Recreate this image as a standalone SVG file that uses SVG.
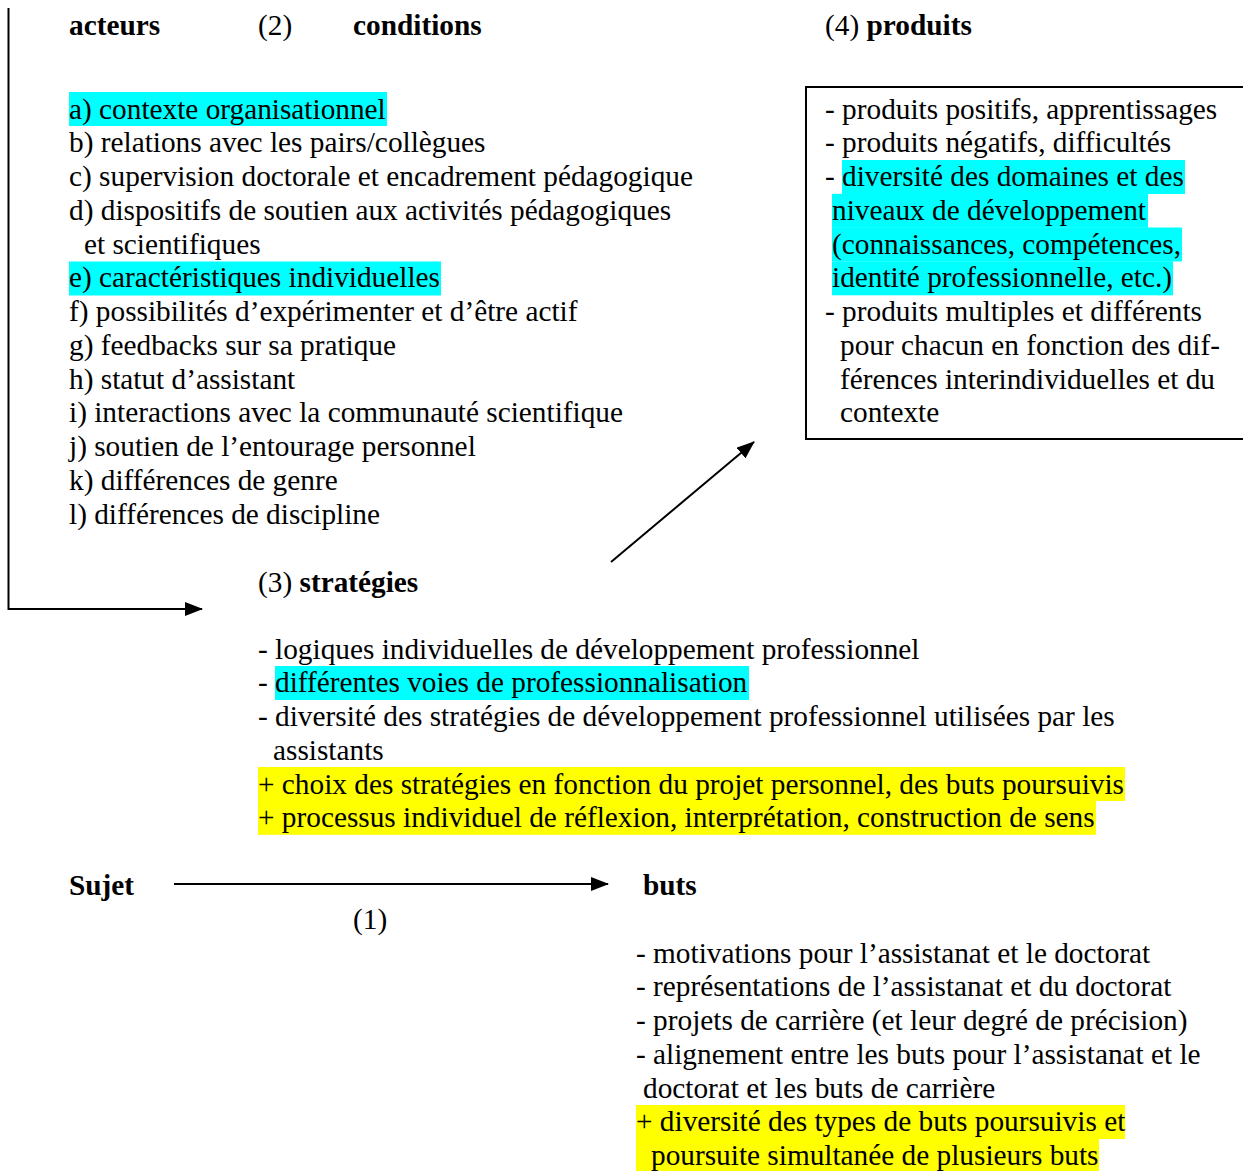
<svg xmlns="http://www.w3.org/2000/svg" width="1243" height="1171" viewBox="0 0 1243 1171">
  <style>
    .t { font-family: "Liberation Serif", "Times New Roman", serif; font-size: 29.3px; fill: #000; }
    .b { font-weight: bold; }
    .hc { fill: #00ffff; }
    .hy { fill: #ffff00; }
    .ln { stroke: #000; stroke-width: 2; fill: none; }
  </style>
  <defs>
    <marker id="arr" markerWidth="18" markerHeight="14" refX="17" refY="7" orient="auto" markerUnits="userSpaceOnUse">
      <path d="M0,0 L18,7 L0,14 Z" fill="#000"/>
    </marker>
  </defs>
  <rect width="1243" height="1171" fill="#fff"/>

  <!-- headers -->
  <g id="headers">
    <text class="t b" x="69" y="35">acteurs</text>
    <text class="t" x="258" y="35">(2)</text>
    <text class="t b" x="353" y="35">conditions</text>
    <text class="t" x="825" y="35">(4) <tspan class="b">produits</tspan></text>
  </g>

  <!-- conditions list -->
  <g id="conditions">
    <rect class="hc" x="69" y="92" width="318" height="34"/>
    <rect class="hc" x="69" y="261.5" width="372" height="34"/>
    <text class="t" x="69" y="118.5">a) contexte organisationnel</text>
    <text class="t" x="69" y="152.3">b) relations avec les pairs/collègues</text>
    <text class="t" x="69" y="186">c) supervision doctorale et encadrement pédagogique</text>
    <text class="t" x="69" y="219.8">d) dispositifs de soutien aux activités pédagogiques</text>
    <text class="t" x="84" y="253.5">et scientifiques</text>
    <text class="t" x="69" y="287.3">e) caractéristiques individuelles</text>
    <text class="t" x="69" y="321">f) possibilités d’expérimenter et d’être actif</text>
    <text class="t" x="69" y="354.8">g) feedbacks sur sa pratique</text>
    <text class="t" x="69" y="388.5">h) statut d’assistant</text>
    <text class="t" x="69" y="422.3">i) interactions avec la communauté scientifique</text>
    <text class="t" x="69" y="456">j) soutien de l’entourage personnel</text>
    <text class="t" x="69" y="489.8">k) différences de genre</text>
    <text class="t" x="69" y="523.5">l) différences de discipline</text>
  </g>

  <!-- produits box -->
  <g id="produits">
    <path class="ln" d="M1250,87 H806 V439 H1250"/>
    <rect class="hc" x="842" y="160" width="343" height="34"/>
    <rect class="hc" x="832" y="193.8" width="316" height="34"/>
    <rect class="hc" x="832" y="227.5" width="350" height="34"/>
    <rect class="hc" x="832" y="261.3" width="341" height="34"/>
    <text class="t" x="825" y="118.5">- produits positifs, apprentissages</text>
    <text class="t" x="825" y="152.3">- produits négatifs, difficultés</text>
    <text class="t" x="825" y="186">- diversité des domaines et des</text>
    <text class="t" x="832" y="219.8">niveaux de développement</text>
    <text class="t" x="832" y="253.5">(connaissances, compétences,</text>
    <text class="t" x="832" y="287.3">identité professionnelle, etc.)</text>
    <text class="t" x="825" y="321">- produits multiples et différents</text>
    <text class="t" x="840" y="354.8">pour chacun en fonction des dif-</text>
    <text class="t" x="840" y="388.5">férences interindividuelles et du</text>
    <text class="t" x="840" y="422.3">contexte</text>
  </g>

  <!-- strategies -->
  <g id="strategies">
    <rect class="hc" x="275" y="666" width="474" height="34"/>
    <rect class="hy" x="258" y="767" width="867" height="34"/>
    <rect class="hy" x="258" y="800.8" width="838" height="34"/>
    <text class="t" x="258" y="592">(3) <tspan class="b">stratégies</tspan></text>
    <text class="t" x="258" y="658.5">- logiques individuelles de développement professionnel</text>
    <text class="t" x="258" y="692.3">- différentes voies de professionnalisation</text>
    <text class="t" x="258" y="726">- diversité des stratégies de développement professionnel utilisées par les</text>
    <text class="t" x="273" y="759.8">assistants</text>
    <text class="t" x="258" y="793.5">+ choix des stratégies en fonction du projet personnel, des buts poursuivis</text>
    <text class="t" x="258" y="827.3">+ processus individuel de réflexion, interprétation, construction de sens</text>
  </g>

  <!-- sujet -->
  <g id="sujet">
    <text class="t b" x="69" y="895">Sujet</text>
    <text class="t" x="353" y="929">(1)</text>
  </g>

  <!-- buts -->
  <g id="buts">
    <rect class="hy" x="636" y="1105" width="489" height="34"/>
    <rect class="hy" x="636" y="1138.8" width="463" height="34"/>
    <text class="t b" x="643" y="895">buts</text>
    <text class="t" x="636" y="962.5">- motivations pour l’assistanat et le doctorat</text>
    <text class="t" x="636" y="996.3">- représentations de l’assistanat et du doctorat</text>
    <text class="t" x="636" y="1030">- projets de carrière (et leur degré de précision)</text>
    <text class="t" x="636" y="1063.8">- alignement entre les buts pour l’assistanat et le</text>
    <text class="t" x="643" y="1097.5">doctorat et les buts de carrière</text>
    <text class="t" x="636" y="1131.3">+ diversité des types de buts poursuivis et</text>
    <text class="t" x="651" y="1165">poursuite simultanée de plusieurs buts</text>
  </g>

  <!-- connectors -->
  <g id="connectors">
    <path class="ln" d="M8.5,8 V609 H202" marker-end="url(#arr)"/>
    <path class="ln" d="M611,562 L754,442" marker-end="url(#arr)"/>
    <path class="ln" d="M174,884 H608" marker-end="url(#arr)"/>
  </g>
</svg>
